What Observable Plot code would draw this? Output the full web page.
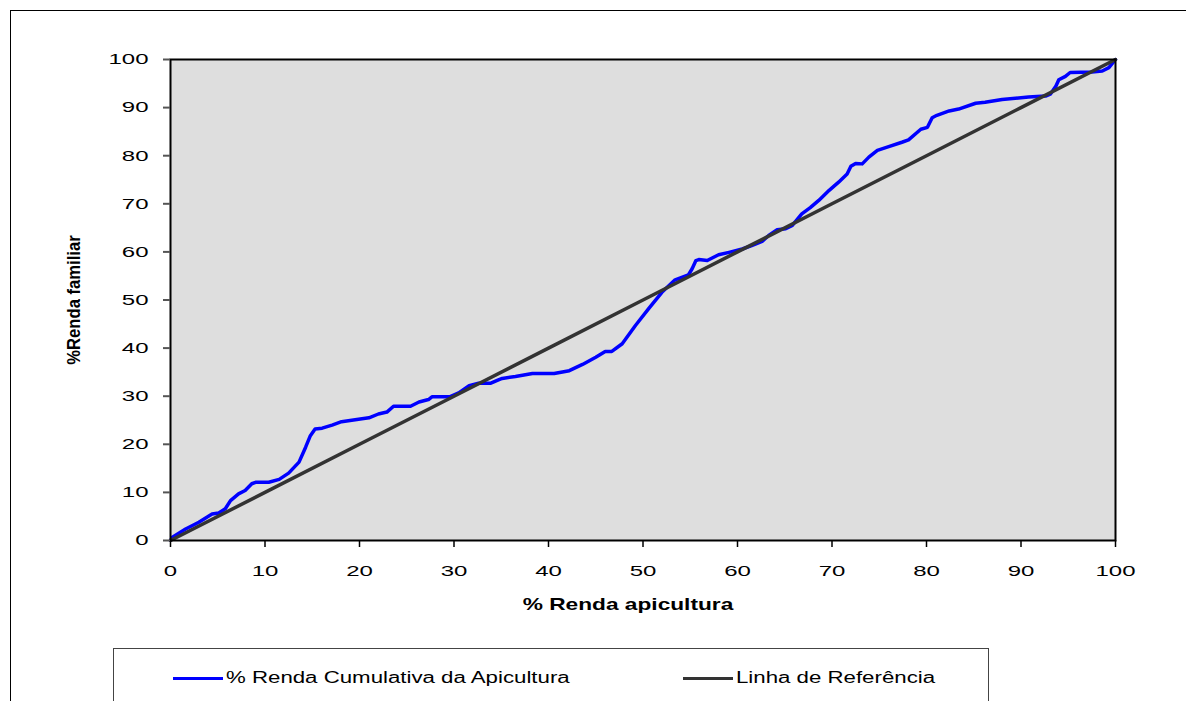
<!DOCTYPE html>
<html>
<head>
<meta charset="utf-8">
<script src="https://cdn.jsdelivr.net/npm/d3@7"></script>
<script src="https://cdn.jsdelivr.net/npm/@observablehq/plot@0.6"></script>
<style>
  body { margin: 0; background: #fff; font-family: "Liberation Sans", Arial, sans-serif; }
  #wrap { position: relative; width: 1186px; height: 701px; overflow: hidden; background: #fff; }
  #border { position: absolute; left: 10px; top: 10px; width: 1200px; height: 720px; border: 1px solid #000; box-sizing: border-box; }
  #chart { position: absolute; left: 0; top: 0; }
  #legend { position: absolute; left: 113px; top: 648px; width: 876px; height: 80px; border: 1px solid #444; box-sizing: border-box; background: #fff; }
  .item { position: absolute; top: 20px; height: 18px; display: flex; align-items: center; }
  .sw { width: 50px; height: 3px; flex: none; }
  .lt { font-size: 16px; color: #000; transform: scaleX(1.39); transform-origin: left center; margin-left: 3px; white-space: nowrap; }
</style>
</head>
<body>
<div id="wrap">
  <div id="border"></div>
  <div id="chart"></div>
  <div id="legend"></div>
</div>
<script>
// ---- data ----
const blueX = [0, 0.2, 1.6, 3.0, 4.4, 5.1, 5.8, 6.35, 7.2, 7.9, 8.6, 9.0, 10.4, 11.5, 12.5, 13.6, 14.3, 14.8, 15.3, 16.05, 17.1, 18.1, 19.9, 21.0, 22.0, 22.9, 23.6, 25.4, 26.3, 27.3, 27.7, 29.6, 30.5, 31.6, 32.6, 33.9, 34.7, 35.1, 36.5, 38.3, 40.6, 42.2, 43.6, 45.0, 46.0, 46.7, 47.8, 49.2, 50.6, 52.0, 53.4, 54.8, 55.2, 55.6, 55.9, 56.8, 58.0, 59.1, 60.5, 61.5, 62.6, 63.3, 64.2, 65.1, 65.8, 66.8, 67.7, 68.6, 69.7, 70.7, 71.6, 72.0, 72.5, 73.2, 73.9, 74.8, 76.0, 77.4, 78.1, 79.4, 80.1, 80.6, 81.1, 82.4, 83.4, 85.2, 86.2, 88.0, 90.8, 92.6, 93.1, 93.7, 94.0, 94.7, 95.2, 97.5, 98.6, 99.3, 100];
const blueY = [0, 0.7, 2.4, 3.8, 5.5, 5.7, 6.6, 8.3, 9.7, 10.4, 11.8, 12.1, 12.1, 12.7, 14.0, 16.3, 19.4, 21.8, 23.2, 23.35, 24.0, 24.7, 25.2, 25.5, 26.3, 26.7, 27.9, 27.9, 28.8, 29.3, 29.9, 29.9, 30.7, 32.2, 32.7, 32.7, 33.4, 33.7, 34.1, 34.7, 34.7, 35.3, 36.6, 38.1, 39.3, 39.3, 40.9, 44.7, 48.2, 51.6, 54.2, 55.2, 56.5, 58.2, 58.4, 58.2, 59.4, 59.9, 60.6, 61.3, 62.2, 63.4, 64.6, 64.8, 65.5, 67.9, 69.2, 70.7, 72.8, 74.5, 76.2, 77.8, 78.4, 78.3, 79.7, 81.1, 81.9, 82.8, 83.3, 85.5, 85.9, 87.9, 88.4, 89.3, 89.7, 90.9, 91.1, 91.7, 92.2, 92.4, 92.8, 94.5, 95.8, 96.5, 97.3, 97.4, 97.6, 98.3, 100];
const refX = [0, 10, 20, 30, 40, 50, 60, 70, 80, 90, 100];
const refY = [0, 10, 20, 30, 40, 50, 60, 70, 80, 90, 100];
const xTicks = [0, 10, 20, 30, 40, 50, 60, 70, 80, 90, 100];
const yTicks = [0, 10, 20, 30, 40, 50, 60, 70, 80, 90, 100];
const seriesNames = ["% Renda Cumulativa da Apicultura", "Linha de Referência"];
const seriesColors = ["#0000ff", "#333333"];
const xTitle = "% Renda apicultura";
const yTitle = "%Renda familiar";

const blue = blueX.map((x, i) => ({x, y: blueY[i]}));
const ref = refX.map((x, i) => ({x, y: refY[i]}));

const chart = Plot.plot({
  width: 1186,
  height: 640,
  marginLeft: 170,
  marginRight: 71,
  marginTop: 59,
  marginBottom: 100,
  style: { fontFamily: "Liberation Sans, Arial, sans-serif", fontSize: "15px", color: "#000", background: "transparent", overflow: "visible" },
  x: { domain: [0, 100] },
  y: { domain: [0, 100] },
  marks: [
    Plot.frame({ fill: "#dfdfdf" }),
    Plot.line(blue, { x: "x", y: "y", stroke: seriesColors[0], strokeWidth: 3.5 }),
    Plot.line(ref, { x: "x", y: "y", stroke: seriesColors[1], strokeWidth: 3.5 }),
    Plot.frame({ stroke: "#000", strokeWidth: 2 }),
    Plot.axisX({ ticks: xTicks, tickSize: 7, tickPadding: 18, stroke: "#000", strokeWidth: 1.5, label: xTitle, labelAnchor: "center", labelArrow: "none" }),
    Plot.axisY({ ticks: yTicks, tickSize: 7, tickPadding: 15, stroke: "#555", strokeWidth: 2, label: yTitle, labelAnchor: "center", labelArrow: "none" })
  ]
});

// background pattern
const ns = "http://www.w3.org/2000/svg";
const defs = document.createElementNS(ns, "defs");
defs.innerHTML = '<pattern id="bgpat" width="2" height="2" patternUnits="userSpaceOnUse">' +
  '<rect width="2" height="2" fill="#e9e9e9"/><rect width="1" height="1" fill="#d2d2d2"/><rect x="1" y="1" width="1" height="1" fill="#d2d2d2"/></pattern>';
chart.insertBefore(defs, chart.firstChild);
const frames = chart.querySelectorAll('[aria-label="frame"]');
if (frames.length) {
  const r = frames[0].tagName === "rect" ? frames[0] : frames[0].querySelector("rect");
  if (r) r.setAttribute("fill", "url(#bgpat)");
}

// horizontal stretch of tick labels (as in reference)
function stretch(t, sx, sy) {
  let tr = t.getAttribute("transform");
  if (!tr) {
    const x = t.getAttribute("x") || 0, y = t.getAttribute("y") || 0;
    t.removeAttribute("x"); t.removeAttribute("y");
    tr = `translate(${x},${y})`;
  }
  t.setAttribute("transform", tr + ` scale(${sx},${sy})`);
}
chart.querySelectorAll('[aria-label="x-axis tick label"] text').forEach(t => stretch(t, 1.6, 1));
chart.querySelectorAll('[aria-label="y-axis tick label"] text').forEach(t => stretch(t, 1.6, 1));

// axis titles
function placeLabel(sel, transform, size) {
  const g = chart.querySelector(sel);
  if (!g) return;
  g.removeAttribute("transform");
  const t = g.querySelector("text");
  if (!t) return;
  t.removeAttribute("x"); t.removeAttribute("y"); t.removeAttribute("dy"); t.removeAttribute("dx");
  t.setAttribute("transform", transform);
  t.setAttribute("text-anchor", "middle");
  t.setAttribute("font-weight", "bold");
  t.setAttribute("font-size", size);
  g.setAttribute("text-anchor", "middle");
  g.setAttribute("font-weight", "bold");
}
placeLabel('[aria-label="x-axis label"]', "translate(628,610) scale(1.42,1)", "16px");
placeLabel('[aria-label="y-axis label"]', "translate(80,300) rotate(-90) scale(1.28,1.35)", "13px");

document.getElementById("chart").appendChild(chart);

// legend
const legend = document.getElementById("legend");
const pos = [{sw: 59, }, {sw: 569}];
seriesNames.forEach((name, i) => {
  const item = document.createElement("div");
  item.className = "item";
  item.style.left = pos[i].sw + "px";
  item.innerHTML = `<div class="sw" style="background:${seriesColors[i]}"></div><span class="lt">${name}</span>`;
  legend.appendChild(item);
});
</script>
</body>
</html>
